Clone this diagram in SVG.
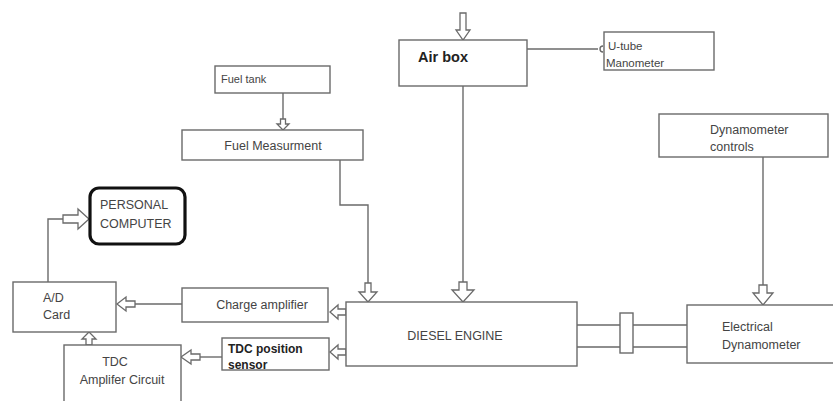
<svg xmlns="http://www.w3.org/2000/svg" width="833" height="401" viewBox="0 0 833 401">
<style>
.box{fill:#fff;stroke:#6a6a6a;stroke-width:1.4}
.pc{fill:#fff;stroke:#111;stroke-width:3.2}
.ln{fill:none;stroke:#6a6a6a;stroke-width:1.4}
.ar{fill:#fff;stroke:#6a6a6a;stroke-width:1.3;stroke-linejoin:miter}
text{font-family:"Liberation Sans",Arial,sans-serif;font-size:12.5px;fill:#444}
.b{font-weight:bold;fill:#222}
.c{text-anchor:middle}
</style>
<rect width="833" height="401" fill="#fff"/>
<g id="connectors">
  <!-- air intake arrow -->
  <path class="ar" d="M460,13 H466 V30 H470 L463,40 L456,30 H460 Z"/>
  <!-- air box to U-tube -->
  <path class="ln" d="M527,49 H598"/>
  <path class="ln" d="M603,46 A3,3 0 1 0 603,52"/>
  <!-- fuel tank to fuel measurement -->
  <path class="ln" d="M283,93 V119"/>
  <path class="ar" d="M280.5,119 H285.5 V124 H289 L283,130 L277,124 H280.5 Z"/>
  <!-- fuel measurement to engine -->
  <path class="ln" d="M340,160 V205 H368 V283"/>
  <path class="ar" d="M365,283 H371 V292 H377 L368,302 L359,292 H365 Z"/>
  <!-- air box to engine -->
  <path class="ln" d="M463,86 V282"/>
  <path class="ar" d="M459,282 H467 V290 H474 L463,302 L452,290 H459 Z"/>
  <!-- dyn controls to dynamometer -->
  <path class="ln" d="M763,157 V285"/>
  <path class="ar" d="M759,285 H767 V293 H773 L763,305 L753,293 H759 Z"/>
  <!-- engine to charge amp -->
  <path class="ar" d="M346,309 H338 V305 L330,312 L338,319 V315 H346 Z"/>
  <!-- engine to TDC sensor -->
  <path class="ar" d="M346,349 H338 V345 L330,352 L338,359 V355 H346 Z"/>
  <!-- charge amp to A/D -->
  <path class="ln" d="M182,304 H135"/>
  <path class="ar" d="M135,301 H126 V297 L117,304 L126,311 V307 H135 Z"/>
  <!-- TDC sensor to TDC amp -->
  <path class="ln" d="M222,357 H200"/>
  <path class="ar" d="M200,354 H191 V350 L181,357 L191,364 V360 H200 Z"/>
  <!-- TDC amp to A/D -->
  <path class="ar" d="M86,345 V339 H82 L89,332 L96,339 H92 V345 Z"/>
  <!-- A/D to PC -->
  <path class="ln" d="M48,282 V219 H63"/>
  <path class="ar" d="M63,215 H78 V209 L89,219 L78,229 V223 H63 Z"/>
  <!-- shaft -->
  <path class="ln" d="M577,325 H688 M577,347 H688"/>
  <rect class="box" x="620" y="313" width="13" height="40"/>
</g>
<g id="air-box">
  <rect class="box" x="399" y="40" width="128" height="46"/>
  <text class="b" x="418" y="62" style="font-size:14.5px">Air box</text>
</g>
<g id="u-tube">
  <rect class="box" x="604" y="32" width="110" height="38"/>
  <text x="608" y="50" style="font-size:11.5px">U-tube</text>
  <text x="606" y="67" style="font-size:11.5px">Manometer</text>
</g>
<g id="fuel-tank">
  <rect class="box" x="215" y="66" width="115" height="27"/>
  <text x="221" y="83" style="font-size:11px">Fuel tank</text>
</g>
<g id="fuel-measurement">
  <rect class="box" x="182" y="130" width="181" height="30"/>
  <text class="c" x="273" y="150">Fuel Measurment</text>
</g>
<g id="diesel-engine">
  <rect class="box" x="346" y="302" width="231" height="64"/>
  <text class="c" x="455" y="340">DIESEL ENGINE</text>
</g>
<g id="dynamometer-controls">
  <rect class="box" x="659" y="114" width="169" height="43"/>
  <text x="710" y="134">Dynamometer</text>
  <text x="710" y="151">controls</text>
</g>
<g id="electrical-dynamometer">
  <rect class="box" x="687" y="305" width="160" height="58"/>
  <text x="722" y="331">Electrical</text>
  <text x="722" y="349">Dynamometer</text>
</g>
<g id="personal-computer">
  <rect class="pc" x="90" y="188" width="95" height="56" rx="9"/>
  <text x="100" y="209">PERSONAL</text>
  <text x="100" y="228">COMPUTER</text>
</g>
<g id="ad-card">
  <rect class="box" x="13" y="282" width="103" height="50"/>
  <text x="43" y="302">A/D</text>
  <text x="43" y="319">Card</text>
</g>
<g id="charge-amplifier">
  <rect class="box" x="182" y="288" width="146" height="34"/>
  <text class="c" x="262" y="309">Charge amplifier</text>
</g>
<g id="tdc-sensor">
  <rect class="box" x="222" y="338" width="107" height="32"/>
  <text class="b" x="228" y="353" style="font-size:12px">TDC position</text>
  <text class="b" x="228" y="369" style="font-size:12px">sensor</text>
</g>
<g id="tdc-amplifier">
  <rect class="box" x="64" y="345" width="117" height="62"/>
  <text class="c" x="115" y="366">TDC</text>
  <text class="c" x="122" y="384">Amplifer Circuit</text>
</g>
</svg>
